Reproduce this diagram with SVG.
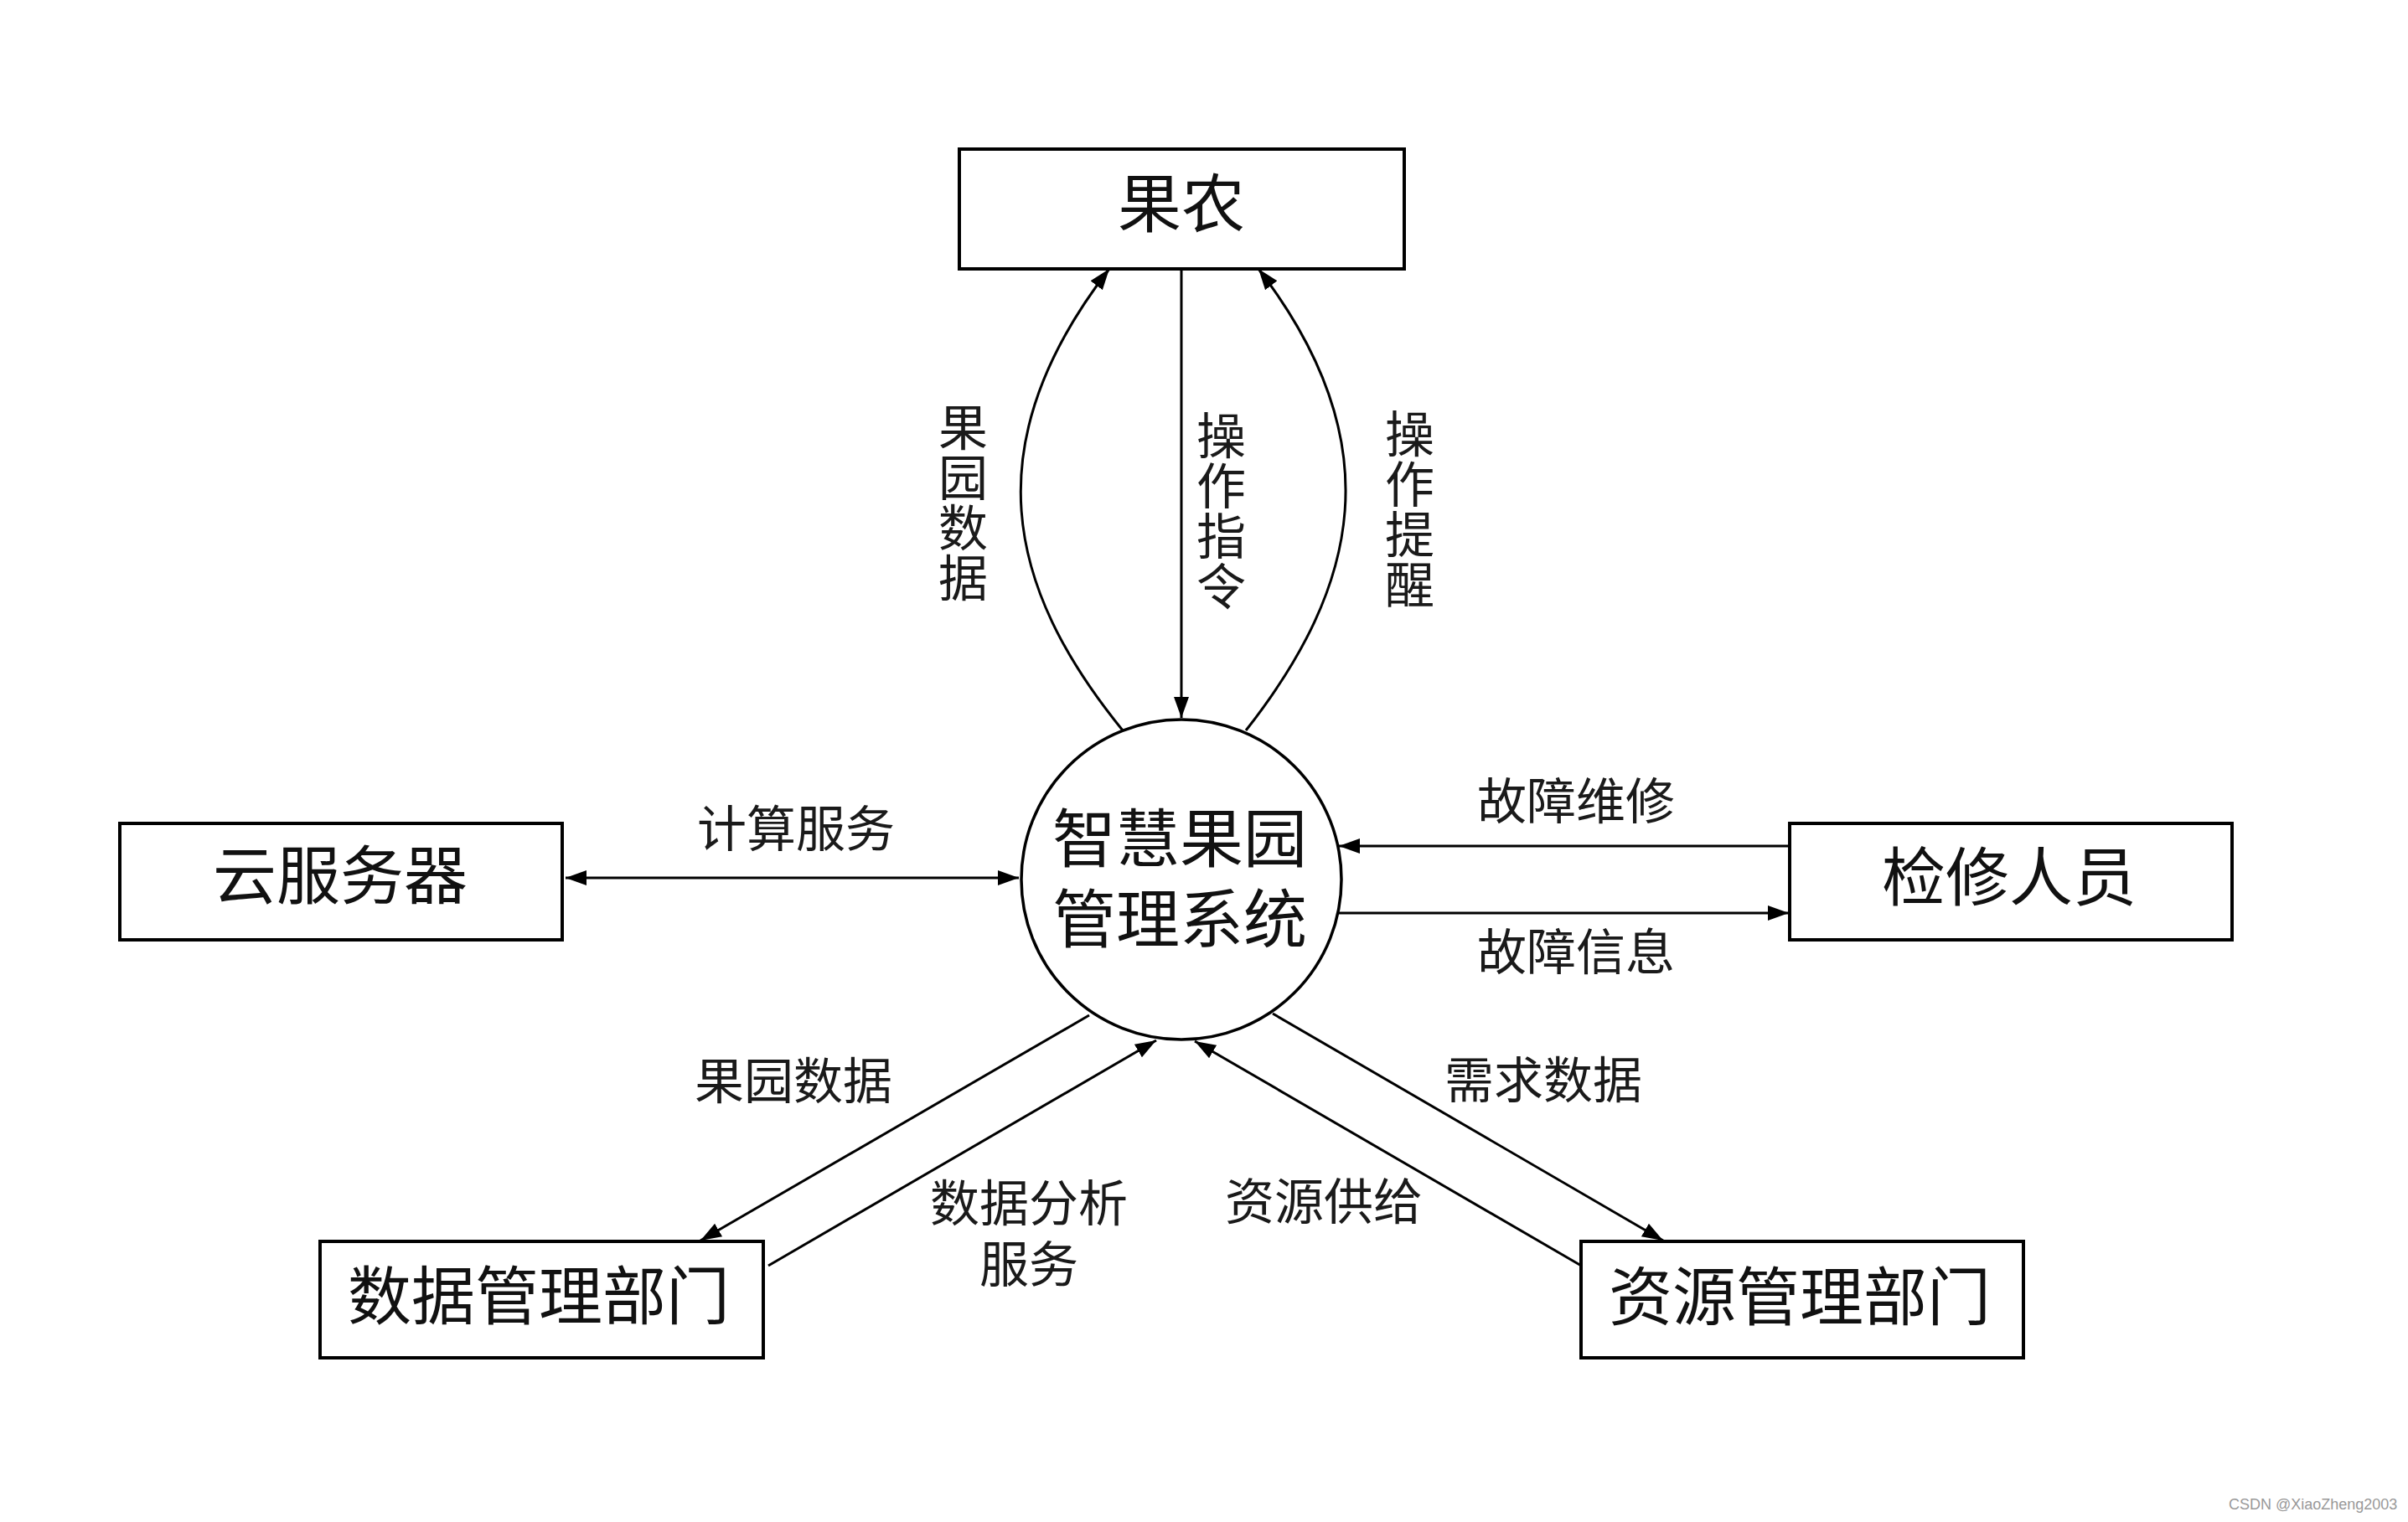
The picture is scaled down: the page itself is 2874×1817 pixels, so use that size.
<svg xmlns="http://www.w3.org/2000/svg" width="2874" height="1817" viewBox="0 0 2874 1817">
<style>
.box{fill:#fff;stroke:#000;stroke-width:4}
.circ{fill:#fff;stroke:#000;stroke-width:3.5}
.ln{fill:none;stroke:#000;stroke-width:3}
.nt{font-family:"Liberation Sans","Noto Sans CJK SC","Noto Sans CJK JP",sans-serif;font-size:76px;fill:#111;text-anchor:middle}
.lb{font-family:"Liberation Sans","Noto Sans CJK SC","Noto Sans CJK JP",sans-serif;font-size:59px;fill:#1a1a1a;text-anchor:middle}
.vt{writing-mode:vertical-rl;letter-spacing:1px}
.wm{font-family:"Liberation Sans",Arial,sans-serif;font-size:18px;fill:#999}
</style>
<defs>
<marker id="ah" markerUnits="userSpaceOnUse" markerWidth="26" markerHeight="20" refX="25" refY="9" orient="auto-start-reverse" viewBox="0 0 26 18">
<path d="M0,0 L25,9 L0,18 Z" fill="#000"/>
</marker>
</defs>
<rect width="2874" height="1817" fill="#fff"/>
<g id="connectors">
<line class="ln" x1="675" y1="1048" x2="1216" y2="1048" marker-start="url(#ah)" marker-end="url(#ah)"/>
<line class="ln" x1="2136" y1="1010" x2="1598" y2="1010" marker-end="url(#ah)"/>
<line class="ln" x1="1598" y1="1090" x2="2135" y2="1090" marker-end="url(#ah)"/>
<line class="ln" x1="1410" y1="321" x2="1410" y2="857" marker-end="url(#ah)"/>
<path class="ln" d="M1340,872 C1200,700 1163,529 1324,321" marker-end="url(#ah)"/>
<path class="ln" d="M1487,872 C1622,700 1662,529 1502,321" marker-end="url(#ah)"/>
<line class="ln" x1="1300" y1="1212" x2="836" y2="1481" marker-end="url(#ah)"/>
<line class="ln" x1="917" y1="1511" x2="1380" y2="1242" marker-end="url(#ah)"/>
<line class="ln" x1="1519" y1="1210" x2="1985" y2="1481" marker-end="url(#ah)"/>
<line class="ln" x1="1889" y1="1512" x2="1426" y2="1243" marker-end="url(#ah)"/>
</g>
<g id="labels">
<text class="lb" x="950" y="1011">计算服务</text>
<text class="lb" x="1881" y="978">故障维修</text>
<text class="lb" x="1881" y="1158">故障信息</text>
<text class="lb" x="947" y="1312">果园数据</text>
<text class="lb" x="1228" y="1458">数据分析</text>
<text class="lb" x="1228" y="1531">服务</text>
<text class="lb" x="1580" y="1456">资源供给</text>
<text class="lb" x="1842" y="1311">需求数据</text>
<text class="lb vt" x="1144" y="600">果园数据</text>
<text class="lb vt" x="1452" y="610">操作指令</text>
<text class="lb vt" x="1677" y="608">操作提醒</text>
</g>
<g id="node-guonong">
<rect class="box" x="1145" y="178" width="531" height="143"/>
<text class="nt" x="1410" y="271">果农</text>
</g>
<g id="node-system">
<circle class="circ" cx="1410" cy="1050" r="191"/>
<text class="nt" x="1408" y="1029">智慧果园</text>
<text class="nt" x="1408" y="1125">管理系统</text>
</g>
<g id="node-cloud">
<rect class="box" x="143" y="983" width="528" height="139"/>
<text class="nt" x="406" y="1073">云服务器</text>
</g>
<g id="node-repair">
<rect class="box" x="2136" y="983" width="528" height="139"/>
<text class="nt" x="2398" y="1075">检修人员</text>
</g>
<g id="node-datadept">
<rect class="box" x="382" y="1482" width="529" height="139"/>
<text class="nt" x="643" y="1575">数据管理部门</text>
</g>
<g id="node-resdept">
<rect class="box" x="1887" y="1482" width="528" height="139"/>
<text class="nt" x="2148" y="1576">资源管理部门</text>
</g>
<text class="wm" x="2660" y="1802">CSDN @XiaoZheng2003</text>
</svg>
